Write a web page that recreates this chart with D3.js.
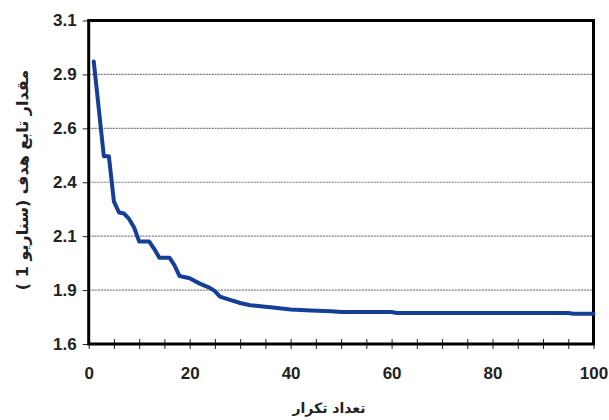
<!DOCTYPE html>
<html><head><meta charset="utf-8">
<script src="https://cdn.jsdelivr.net/npm/d3@7"></script>
<style>
html,body{margin:0;padding:0;background:#fff;}
svg{display:block;}
</style></head>
<body>
<svg id="chart" width="609" height="420"></svg>
<script>
// Data (bend points of the curve)
const iterations = [1, 3, 4, 5, 6, 7, 8, 9, 10, 12, 13, 14, 16, 17, 18, 20, 22, 24, 25, 26, 28, 30, 32, 34, 36, 40, 44, 48, 50, 60, 61, 95, 96, 100];
const objective  = [2.91, 2.47, 2.47, 2.26, 2.21, 2.205, 2.18, 2.14, 2.075, 2.075, 2.04, 2.0, 2.0, 1.965, 1.915, 1.905, 1.88, 1.86, 1.845, 1.82, 1.805, 1.79, 1.78, 1.775, 1.77, 1.76, 1.755, 1.752, 1.748, 1.748, 1.744, 1.744, 1.74, 1.74];
const yTickValues = [1.6, 1.85, 2.1, 2.35, 2.6, 2.85, 3.1];
const yTickLabels = ["1.6", "1.9", "2.1", "2.4", "2.6", "2.9", "3.1"];
const xTickLabelValues = [0, 20, 40, 60, 80, 100];
const xMinorTickValues = [0,5,10,15,20,25,30,35,40,45,50,55,60,65,70,75,80,85,90,95,100];
const xTitle = "تعداد تکرار";
const yTitle = "مقدار تابع هدف  (سناریو 1 )";

const W = 609, H = 420;
const m = {left: 88.7, top: 20.5, right: 15.5, bottom: 76};
const svg = d3.select("#chart");
const x = d3.scaleLinear().domain([0, 100]).range([m.left, W - m.right]);
const y = d3.scaleLinear().domain([1.6, 3.1]).range([H - m.bottom, m.top]);

// gridlines
svg.append("g").selectAll("line").data(yTickValues.slice(1, -1)).join("line")
  .attr("x1", x(0)).attr("x2", x(100))
  .attr("y1", d => y(d)).attr("y2", d => y(d))
  .attr("stroke", "#7a7a7a").attr("stroke-width", 1.2).attr("stroke-dasharray", "2,1");

// y axis ticks + labels
const yAxis = d3.axisLeft(y).tickValues(yTickValues).tickSize(6).tickPadding(6)
  .tickFormat((d, i) => yTickLabels[i]);
const gy = svg.append("g").attr("transform", `translate(${x(0)},0)`).call(yAxis);
gy.select(".domain").remove();
gy.selectAll(".tick line").attr("stroke", "#222").attr("stroke-width", 1);
gy.selectAll(".tick text").attr("font-family", "Liberation Sans, Arial, sans-serif")
  .attr("font-size", 17).attr("font-weight", "bold").attr("fill", "#222");

// x axis ticks (crossing)
const xAxisMinor = d3.axisBottom(x).tickValues(xMinorTickValues).tickSizeInner(5).tickSizeOuter(0).tickFormat("");
const gxm = svg.append("g").attr("transform", `translate(0,${y(1.6)})`).call(xAxisMinor);
gxm.select(".domain").remove();
gxm.selectAll(".tick line").attr("stroke", "#222").attr("stroke-width", 1).attr("y1", -5);

const xAxis = d3.axisBottom(x).tickValues(xTickLabelValues).tickSize(0).tickPadding(23).tickFormat(d3.format("d"));
const gx = svg.append("g").attr("transform", `translate(0,${y(1.6)})`).call(xAxis);
gx.select(".domain").remove();
gx.selectAll(".tick text").attr("font-family", "Liberation Sans, Arial, sans-serif")
  .attr("font-size", 17).attr("font-weight", "bold").attr("fill", "#222");

// frame
svg.append("rect").attr("x", x(0)).attr("y", y(3.1))
  .attr("width", x(100) - x(0)).attr("height", y(1.6) - y(3.1))
  .attr("fill", "none").attr("stroke", "#000").attr("stroke-width", 3);

// line
const pts = iterations.map((d, i) => [d, objective[i]]);
svg.append("path").datum(pts)
  .attr("d", d3.line().x(d => x(d[0])).y(d => y(d[1])))
  .attr("fill", "none").attr("stroke", "#153f96").attr("stroke-width", 4)
  .attr("stroke-linejoin", "round").attr("stroke-linecap", "round");

// titles
svg.append("text").attr("x", 329).attr("y", 413).attr("text-anchor", "middle")
  .style("direction", "rtl")
  .attr("font-family", "DejaVu Sans, sans-serif").attr("font-size", 14).attr("font-weight", "bold")
  .attr("fill", "#222").text(xTitle);
svg.append("text").attr("transform", "translate(28,180) rotate(-90)").attr("text-anchor", "middle")
  .style("direction", "rtl")
  .attr("font-family", "DejaVu Sans, sans-serif").attr("font-size", 16).attr("font-weight", "bold")
  .attr("fill", "#222").text(yTitle);
</script>
</body></html>
